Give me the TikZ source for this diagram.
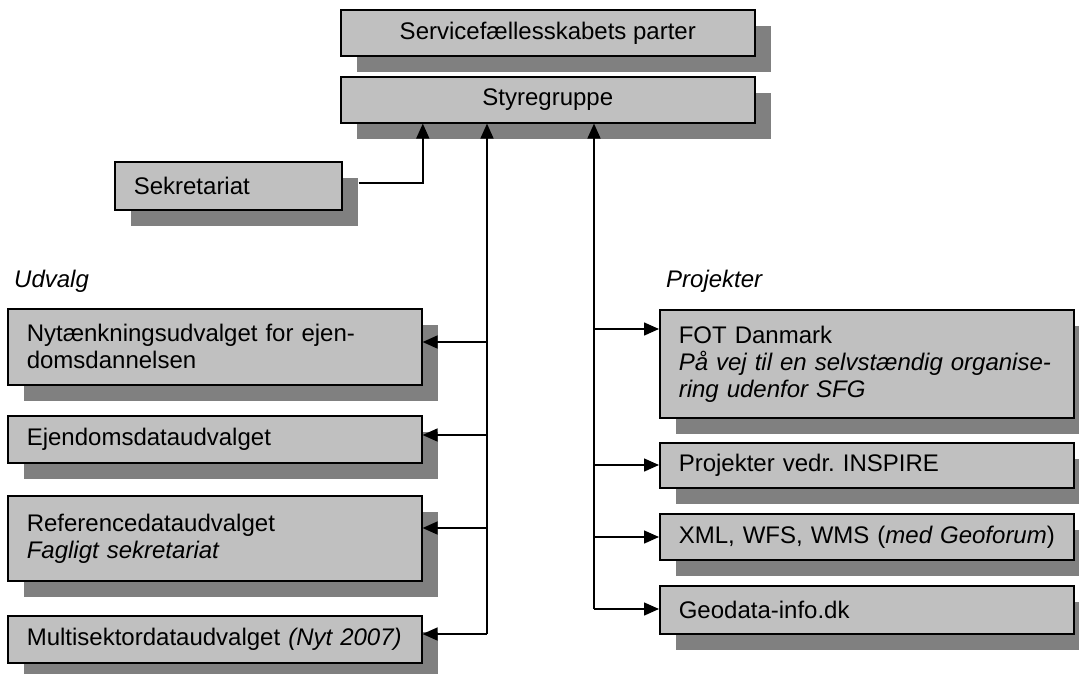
\documentclass[tikz,border=0pt]{standalone}
\usepackage{fontspec}
\setmainfont{Liberation Sans}
\usetikzlibrary{arrows.meta,shadows}
\definecolor{boxgray}{HTML}{C0C0C0}
\definecolor{shadgray}{HTML}{808080}
\frenchspacing
\begin{document}
\begin{tikzpicture}[x=1pt,y=-1pt,
  basebox/.style={draw=black, line width=1.6pt, fill=boxgray,
    drop shadow={shadow xshift=16pt, shadow yshift=-16pt, opacity=1, fill=shadgray},
    anchor=north west, inner ysep=0pt, font=\fontsize{24}{27}\selectfont},
  topbox/.style={basebox, minimum width=414pt, minimum height=46pt, align=center},
  leftbox/.style={basebox, inner xsep=19pt, text width=#1-38pt, align=left},
  lbl/.style={font=\fontsize{24}{27}\selectfont\itshape, anchor=base west, inner sep=0pt},
  arr/.style={line width=1.5pt, -{Triangle[length=15pt,width=13pt]}}]
\useasboundingbox (0,0) rectangle (1079,673);
% top
\node[topbox] (parter) at (340,9) {Servicefællesskabets parter};
\node[topbox] (styre) at (340,76) {Styregruppe};
\node[leftbox=227pt, minimum height=48pt] (sekr) at (114,161) {Sekretariat};
% labels
\node[lbl] (udv) at (14,287) {Udvalg};
\node[lbl] (proj) at (666,287) {Projekter};
% left boxes
\node[leftbox=414pt, minimum height=76pt] (nyt) at (7,308) {Nytænkningsudvalget for ejen-\\domsdannelsen};
\node[leftbox=414pt, minimum height=47pt] (ejd) at (7,415) {Ejendomsdataudvalget};
\node[leftbox=414pt, minimum height=85pt] (ref) at (7,495) {Referencedataudvalget\\\textit{Fagligt sekretariat}};
\node[leftbox=414pt, minimum height=47pt] (multi) at (7,615) {Multisektordataudvalget \textit{(Nyt 2007)}};
% right boxes
\node[leftbox=414pt, minimum height=108pt] (fot) at (659,309) {FOT Danmark\\\mbox{\itshape På vej til en selvstændig organise-}\\\mbox{\itshape ring udenfor SFG}};
\node[leftbox=414pt, minimum height=45pt] (insp) at (659,442) {Projekter vedr.\ INSPIRE};
\node[leftbox=414pt, minimum height=46pt] (xml) at (659,513) {\mbox{XML, WFS, WMS (\textit{med Geoforum})}};
\node[leftbox=414pt, minimum height=48pt] (geo) at (659,585) {Geodata-info.dk};
% connectors
\draw[arr] ([xshift=16pt,yshift=3pt]sekr.east) -| ([xshift=-125pt]styre.south);
\coordinate (lt) at (487,634);
\draw[arr] (lt) -- (lt |- styre.south);
\coordinate (l1) at (487,342);
\coordinate (l2) at (487,435);
\coordinate (l3) at (487,528);
\draw[arr] (l1) -- (l1 -| nyt.east);
\draw[arr] (l2) -- (l2 -| ejd.east);
\draw[arr] (l3) -- (l3 -| ref.east);
\draw[arr] (lt) -- (lt -| multi.east);
\coordinate (rt) at (594,609);
\draw[arr] (rt) -- (rt |- styre.south);
\coordinate (r1) at (594,329);
\coordinate (r2) at (594,465);
\coordinate (r3) at (594,537);
\draw[arr] (r1) -- (r1 -| fot.west);
\draw[arr] (r2) -- (r2 -| insp.west);
\draw[arr] (r3) -- (r3 -| xml.west);
\draw[arr] (rt) -- (rt -| geo.west);
\end{tikzpicture}
\end{document}
